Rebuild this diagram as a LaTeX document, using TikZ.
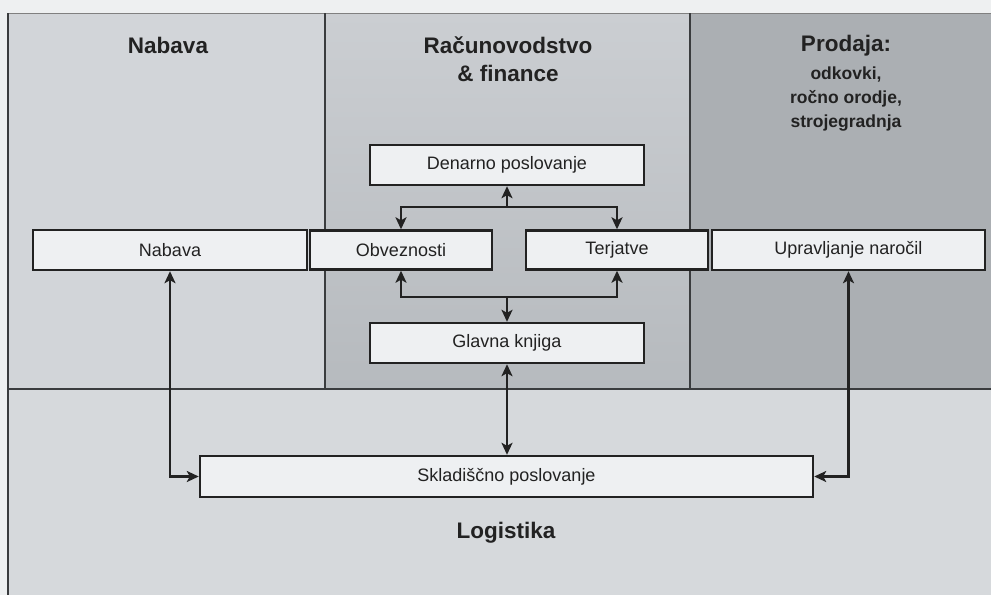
\documentclass[tikz,border=0pt]{standalone}
\usepackage{fontspec}
\setmainfont{Liberation Sans}
\usetikzlibrary{arrows.meta}
\definecolor{marg}{HTML}{EEF0F1}
\definecolor{nabbg}{HTML}{D2D5D9}
\definecolor{ractop}{HTML}{CBCED2}
\definecolor{racbot}{HTML}{B6BABE}
\definecolor{probg}{HTML}{ABAFB3}
\definecolor{logbg}{HTML}{D6D9DC}
\definecolor{boxfill}{HTML}{EEF0F2}
\definecolor{ink}{HTML}{222222}
\definecolor{rule}{HTML}{3A3C3E}
\tikzset{
  procbox/.style={draw=ink, line width=2.4pt, fill=boxfill, text=ink,
    inner sep=0pt, font=\fontsize{18}{21}\selectfont},
  arr/.style={draw=ink, line width=2.5pt, -{Stealth[length=12pt,width=11pt,inset=3pt]}},
  darr/.style={draw=ink, line width=2.5pt, {Stealth[length=12pt,width=11pt,inset=3pt]}-{Stealth[length=12pt,width=11pt,inset=3pt]}},
  head/.style={text=ink, font=\bfseries\fontsize{22.5}{27}\selectfont, align=center},
  subhead/.style={text=ink, font=\bfseries\fontsize{17.5}{24}\selectfont, align=center},
  divider/.style={draw=rule, line width=2pt}
}
\begin{document}
\begin{tikzpicture}[x=1pt,y=-1pt]
\useasboundingbox (0,0) rectangle (991,595);
% backgrounds
\fill[marg] (0,0) rectangle (991,595);
\fill[nabbg] (8,13) rectangle (325,389);
\shade[top color=ractop, bottom color=racbot] (325,13) rectangle (690,389);
\fill[probg] (690,13) rectangle (991,389);
\fill[logbg] (8,389) rectangle (991,595);
% dividers
\draw[draw=gray, line width=1pt] (8,13) -- (991,13);
\draw[divider] (8,13) -- (8,595);
\draw[divider] (325,13) -- (325,389);
\draw[divider] (690,13) -- (690,389);
\draw[divider] (8,389) -- (991,389);
% headings
\node[head] (hnab) at (168,45) {Nabava};
\node[head] (hrac1) at (508,45) {Računovodstvo};
\node[head] (hrac2) at (508,73) {\& finance};
\node[head] (hpro) at (846,46) {Prodaja:};
\node[subhead] (hpro2) at (846,99) {odkovki,\\ročno orodje,\\strojegradnja};
\node[head] (hlog) at (506,533) {Logistika};
% boxes
\node[procbox, minimum width=274pt, minimum height=40pt] (nab) at (170,250) {Nabava};
\node[procbox, minimum width=182pt, minimum height=39pt] (obv) at (401,250) {Obveznosti};
\node[procbox, minimum width=182pt, minimum height=39pt] (ter) at (617,250) {Terjatve};
\node[procbox, minimum width=273pt, minimum height=40pt] (upr) at (848.5,250) {Upravljanje naročil};
\node[procbox, minimum width=274pt, minimum height=40pt] (den) at (507,165) {Denarno poslovanje};
\node[procbox, minimum width=274pt, minimum height=40pt] (glk) at (507,343) {Glavna knjiga};
\node[procbox, minimum width=613pt, minimum height=41pt] (skl) at (506.5,476.5) {Skladiščno poslovanje};
% connectors
\coordinate (jt) at (507,207);
\coordinate (jb) at (507,297);
\draw[arr] (jt) -- (den.south);
\draw[arr] (jt) -| (obv.north);
\draw[arr] (jt) -| (ter.north);
\draw[arr] (jb) -| (obv.south);
\draw[arr] (jb) -| (ter.south);
\draw[arr] (jb) -- (glk.north);
\draw[darr] (glk.south) -- (glk.south |- skl.north);
\draw[darr] (nab.south) |- (skl.west);
\draw[darr] (upr.south) |- (skl.east);
\end{tikzpicture}
\end{document}
